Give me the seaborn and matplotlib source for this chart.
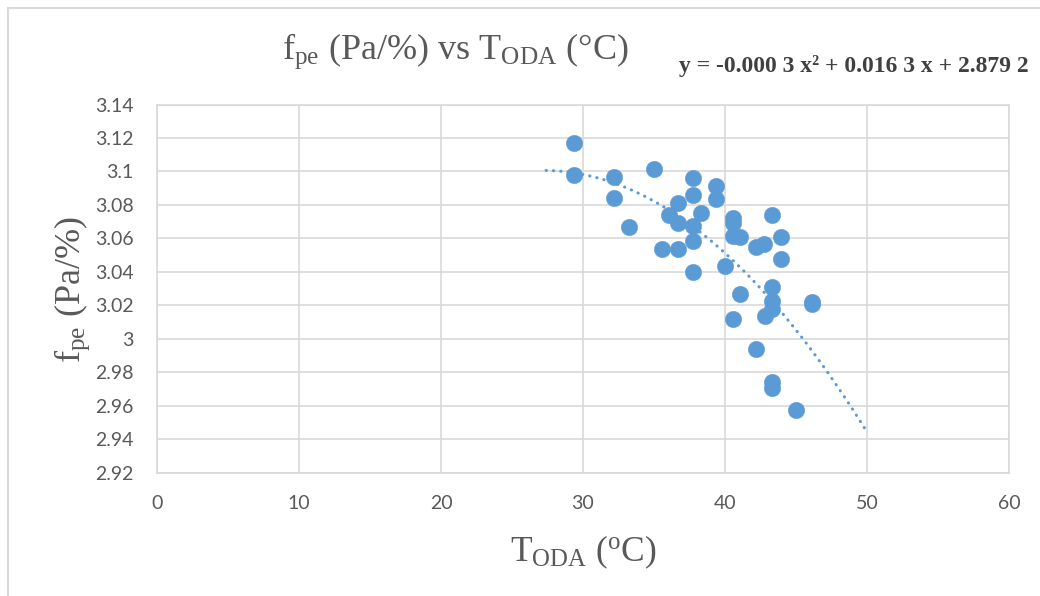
import numpy as np
import pandas as pd
import matplotlib
matplotlib.use("Agg")
import matplotlib.pyplot as plt
import seaborn as sns
from matplotlib.lines import Line2D

# ---- data ----
t_oda = [29.37, 29.37, 32.18, 32.18, 33.26, 35.00, 35.58, 36.08, 36.67, 36.67,
         36.67, 37.77, 37.77, 37.77, 37.77, 37.77, 38.29, 39.37, 39.37, 40.00,
         40.58, 40.58, 40.58, 41.06, 41.06, 40.58, 42.16, 42.75, 42.82, 43.31,
         43.31, 43.31, 43.31, 43.92, 43.92, 46.11, 46.11, 42.16, 43.31, 43.31,
         44.98]
f_pe = [3.1168, 3.0979, 3.0965, 3.0843, 3.0670, 3.1013, 3.0538, 3.0740, 3.0809, 3.0690,
        3.0534, 3.0959, 3.0857, 3.0674, 3.0586, 3.0401, 3.0754, 3.0913, 3.0837, 3.0432,
        3.0720, 3.0693, 3.0614, 3.0606, 3.0267, 3.0116, 3.0550, 3.0566, 3.0136, 3.0740,
        3.0307, 3.0227, 3.0178, 3.0610, 3.0475, 3.0221, 3.0208, 2.9939, 2.9743, 2.9704,
        2.9574]
trend_coeffs = [-0.0003, 0.0163, 2.8792]   # from the trendline equation shown
trend_range = [27.4, 50.0]
x_ticks = [0, 10, 20, 30, 40, 50, 60]
y_ticks = [2.92, 2.94, 2.96, 2.98, 3.00, 3.02, 3.04, 3.06, 3.08, 3.10, 3.12, 3.14]
title_text = r"f$_{\mathrm{pe}}$ (Pa/%) vs T$_{\mathrm{ODA}}$ (°C)"
equation_text = "y = -0.000 3 x² + 0.016 3 x + 2.879 2"
x_label = r"T$_{\mathrm{ODA}}$ ($^{\mathrm{o}}$C)"
y_label = r"f$_{\mathrm{pe}}$ (Pa/%)"

df = pd.DataFrame({"T_ODA": t_oda, "f_pe": f_pe})
trend_x = np.linspace(trend_range[0], trend_range[1], 200)
trend = pd.DataFrame({"x": trend_x, "y": np.polyval(trend_coeffs, trend_x)})

sns.set_theme(style="white")
plt.rcParams["mathtext.fontset"] = "custom"
plt.rcParams["mathtext.rm"] = "Liberation Serif"
plt.rcParams["mathtext.it"] = "Liberation Serif:italic"
plt.rcParams["mathtext.bf"] = "Liberation Serif:bold"

W, H = 1040, 596
fig = plt.figure(figsize=(W / 100, H / 100), dpi=100)
ax = fig.add_axes([157 / W, 1 - 472.5 / H, (1009 - 157) / W, (472.5 - 104.5) / H])

blue = "#5b9bd5"
grid = "#d9d9d9"
txt = "#595959"

sns.scatterplot(data=df, x="T_ODA", y="f_pe", ax=ax, s=140, color=blue,
                edgecolor=blue, linewidth=0.3, zorder=3)
sns.lineplot(data=trend, x="x", y="y", ax=ax, color=blue, lw=2.2,
             linestyle=(0, (0.1, 2.3)), dash_capstyle="round", zorder=4)

ax.set_xlim(0, 60)
ax.set_ylim(2.92, 3.14)
ax.set_xticks(x_ticks)
ax.set_yticks(y_ticks)
ax.set_xticklabels([f"{v:g}" for v in x_ticks])
ax.set_yticklabels([f"{v:g}" for v in y_ticks])
ax.grid(True, color=grid, lw=1.2)
ax.set_axisbelow(True)
for s in ax.spines.values():
    s.set_color(grid)
    s.set_linewidth(1.2)
ax.tick_params(axis="both", length=0, labelcolor=txt, labelsize=14)
ax.tick_params(axis="y", pad=17)
ax.tick_params(axis="x", pad=16)
for lab in ax.get_xticklabels() + ax.get_yticklabels():
    lab.set_fontfamily("Lato")
ax.set_xlabel("")
ax.set_ylabel("")

fig.text(583 / W, 1 - 552 / H, x_label, ha="center", va="center",
         fontsize=25.5, color=txt, family="Liberation Serif")
fig.text(72 / W, 1 - 290 / H, y_label, ha="center", va="center", rotation=90,
         fontsize=26, color=txt, family="Liberation Serif")
fig.text(455 / W, 1 - 51 / H, title_text, ha="center", va="center",
         fontsize=26, color=txt, family="Liberation Serif")
fig.text(1029 / W, 1 - 66 / H, equation_text, ha="right", va="center",
         fontsize=17, color="#404040", family="Liberation Serif", fontweight="bold")

# chart-area border
fig.add_artist(Line2D([8 / W, 8 / W], [0, 1 - 8 / H], transform=fig.transFigure,
                      color=grid, lw=1.5))
fig.add_artist(Line2D([8 / W, 1], [1 - 8 / H, 1 - 8 / H], transform=fig.transFigure,
                      color=grid, lw=1.5))

fig.savefig("out.png", dpi=100, facecolor="white")
